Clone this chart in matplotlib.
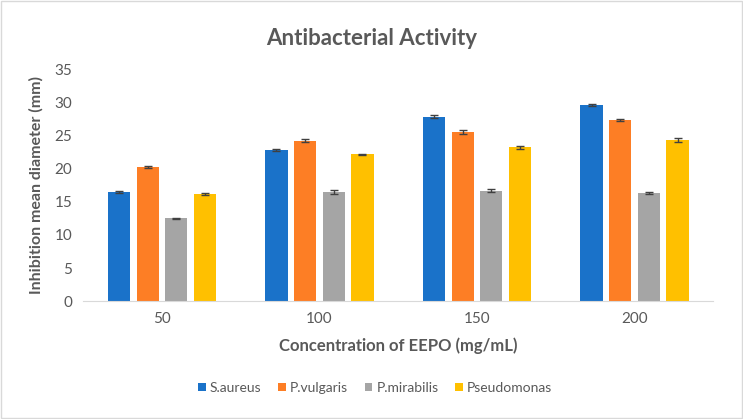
import numpy as np
import matplotlib.pyplot as plt
from matplotlib.patches import Rectangle

plt.rcParams['font.family'] = ['Lato', 'DejaVu Sans']

# data
concentrations = ['50', '100', '150', '200']
series_names = ['S.aureus', 'P.vulgaris', 'P.mirabilis', 'Pseudomonas']
s_aureus = [16.5, 22.9, 27.9, 29.7]
p_vulgaris = [20.3, 24.3, 25.6, 27.4]
p_mirabilis = [12.5, 16.5, 16.7, 16.4]
pseudomonas = [16.2, 22.2, 23.3, 24.4]
err_s_aureus = [0.1, 0.1, 0.25, 0.15]
err_p_vulgaris = [0.2, 0.2, 0.35, 0.15]
err_p_mirabilis = [0.15, 0.3, 0.2, 0.15]
err_pseudomonas = [0.1, 0.1, 0.2, 0.3]

values = [s_aureus, p_vulgaris, p_mirabilis, pseudomonas]
errors = [err_s_aureus, err_p_vulgaris, err_p_mirabilis, err_pseudomonas]
colors = ['#1a72c9', '#fd7e25', '#a5a5a5', '#ffc000']
text_col = '#595959'

fig = plt.figure(figsize=(7.43, 4.19), dpi=100)
fig.patches.append(Rectangle((0.002, 0.003), 0.996, 0.994, transform=fig.transFigure,
                             fill=False, edgecolor='#d9d9d9', linewidth=1))
ax = fig.add_axes([0.112, 0.2816, 0.848, 0.5514])

x = np.arange(len(concentrations))
w = 0.14
step = 0.182
for i, (vals, errs, c, name) in enumerate(zip(values, errors, colors, series_names)):
    ax.bar(x + (i - 1.5) * step, vals, w, color=c, label=name,
           yerr=errs, capsize=3, error_kw=dict(ecolor='#404040', elinewidth=1, capthick=1))

ax.set_xlim(-0.5, 3.5)
ax.set_ylim(0, 35)
ax.set_yticks(range(0, 36, 5))
ax.set_xticks(x)
ax.set_xticklabels(concentrations)
ax.tick_params(length=0, labelsize=11, colors=text_col, pad=8)
for s in ['top', 'right', 'left']:
    ax.spines[s].set_visible(False)
ax.spines['bottom'].set_color('#d9d9d9')

ax.set_xlabel('Concentration of EEPO (mg/mL)', fontsize=12, fontweight='bold', color=text_col, labelpad=8)
ax.set_ylabel('Inhibition mean diameter (mm)', fontsize=11.5, fontweight='bold', color=text_col, labelpad=8)
fig.text(0.5, 0.909, 'Antibacterial Activity', ha='center', va='center',
         fontsize=16, fontweight='bold', color=text_col)

fig.legend(loc='center', bbox_to_anchor=(0.505, 0.074), ncol=4, frameon=False,
           fontsize=10, handlelength=0.55, handleheight=0.55, handletextpad=0.3,
           columnspacing=1.2, labelcolor=text_col)

fig.savefig('out.png', dpi=100)
